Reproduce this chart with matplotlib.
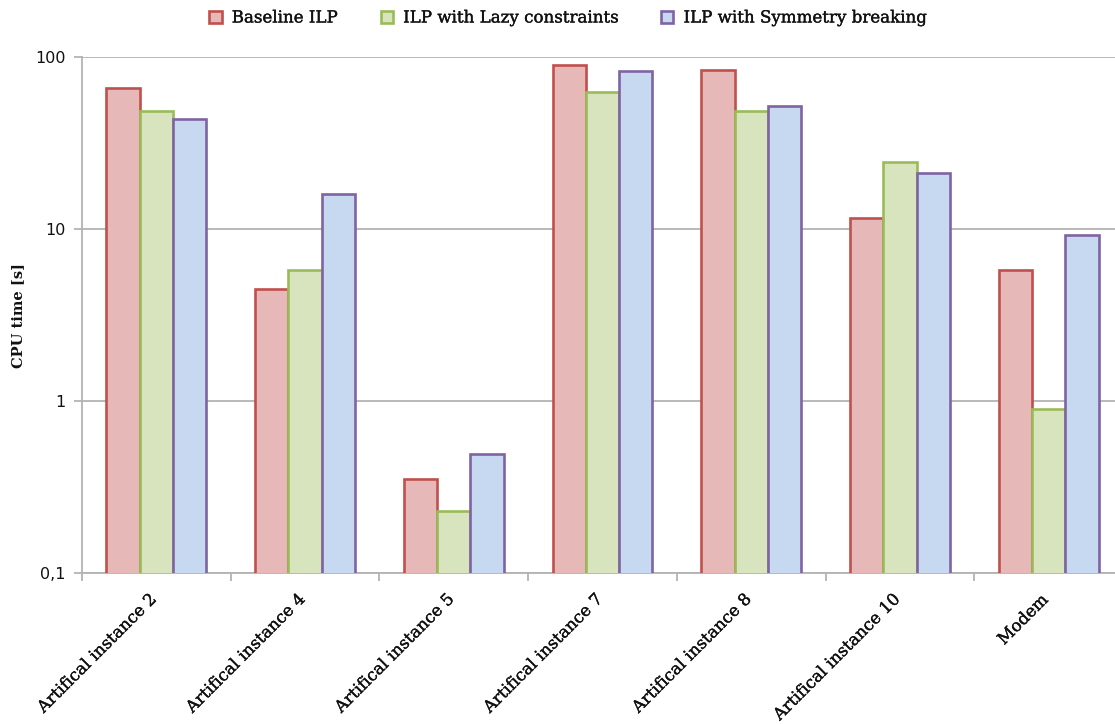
import matplotlib
matplotlib.use("Agg")
import matplotlib.pyplot as plt
import matplotlib.patheffects as pe
import numpy as np
from matplotlib.patches import Patch

categories = ["Artifical instance 2", "Artifical instance 4", "Artifical instance 5",
              "Artifical instance 7", "Artifical instance 8", "Artifical instance 10", "Modem"]
series_names = ["Baseline ILP", "ILP with Lazy constraints", "ILP with Symmetry breaking"]
baseline = [65.4, 4.45, 0.352, 89.0, 83.6, 11.5, 5.8]
lazy = [48.3, 5.8, 0.231, 62.6, 48.3, 24.5, 0.905]
symmetry = [43.2, 16.0, 0.494, 82.4, 51.6, 21.2, 9.23]
ytick_vals = [0.1, 1, 10, 100]
ytick_labels = ["0,1", "1", "10", "100"]
ylabel = "CPU time [s]"

fills = ["#E6B9B8", "#D7E4BD", "#C6D9F1"]
edges = ["#C0504D", "#9BBB59", "#8064A2"]

serif = "DejaVu Serif"
sans = "DejaVu Sans"
txt_color = "#111111"
thick = [pe.withStroke(linewidth=0.25, foreground=txt_color)]

fig = plt.figure(figsize=(11.15, 7.24), dpi=100)
ax = fig.add_axes([82/1115, 1 - 573.3/724, 1041/1115, (573.3 - 56.7)/724])

x = np.arange(len(categories))
w = 0.224
for i, vals in enumerate([baseline, lazy, symmetry]):
    ax.bar(x + (i - 1) * w, vals, width=w, color=fills[i], edgecolor=edges[i],
           linewidth=1.9, zorder=3, label=series_names[i])

ax.set_yscale("log")
ax.set_ylim(0.1, 100)
ax.set_xlim(-0.5, len(categories) - 0.5)
ax.set_yticks(ytick_vals)
ax.set_yticklabels(ytick_labels, fontfamily=sans, fontsize=11.5, color=txt_color)
ax.yaxis.set_minor_locator(matplotlib.ticker.NullLocator())
ax.grid(axis="y", which="major", color="#B3B3B3", linewidth=1.3, zorder=0)
ax.tick_params(axis="y", length=6, width=1.3, color="#B3B3B3", pad=6)

ax.set_xticks(np.arange(len(categories) + 1) - 0.5)
ax.set_xticklabels([])
ax.tick_params(axis="x", length=6, width=1.3, color="#B3B3B3", direction="out")
for xi, lab in zip(x, categories):
    ax.text(xi - 0.06, -0.035, lab, transform=ax.get_xaxis_transform(),
            rotation=45, ha="right", va="top", rotation_mode="anchor",
            fontfamily=serif, fontsize=12, color=txt_color, path_effects=thick)

for s in ["top", "right"]:
    ax.spines[s].set_visible(False)
for s in ["left", "bottom"]:
    ax.spines[s].set_color("#B3B3B3")
    ax.spines[s].set_linewidth(1.3)

ax.set_ylabel(ylabel, fontfamily=serif, fontweight="bold", fontsize=10.5, labelpad=7,
              color=txt_color)

handles = [Patch(facecolor=fills[i], edgecolor=edges[i], linewidth=1.9) for i in range(3)]
leg = fig.legend(handles, series_names, loc="center", bbox_to_anchor=(0.509, 1 - 18/724),
                 ncol=3, frameon=False, prop={"family": serif, "size": 12},
                 handlelength=0.75, handleheight=0.75, handletextpad=0.6, columnspacing=2.6)
for t in leg.get_texts():
    t.set_color(txt_color)
    t.set_path_effects(thick)

fig.savefig("out.png", dpi=100)
